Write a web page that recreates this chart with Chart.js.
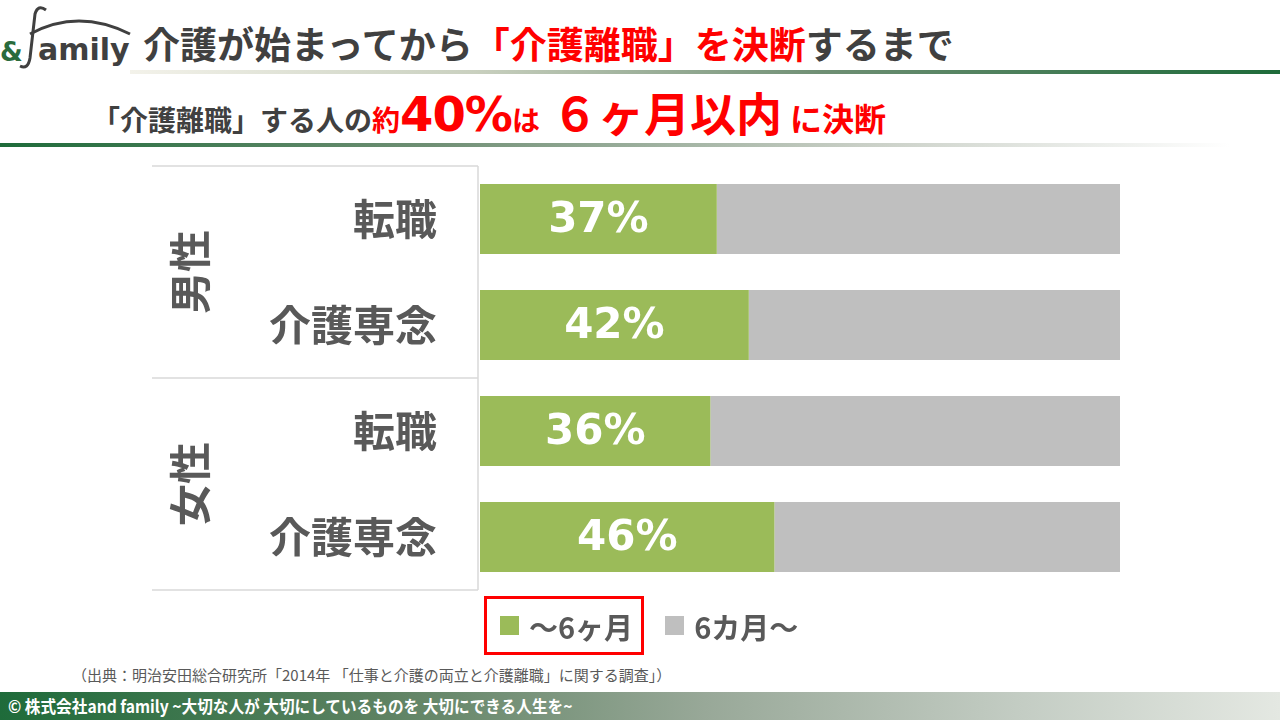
<!DOCTYPE html>
<html lang="ja">
<head>
<meta charset="utf-8">
<script src="https://cdn.jsdelivr.net/npm/chart.js@4/dist/chart.umd.min.js"></script>
<style>
  html, body { margin: 0; padding: 0; background: #fff; }
  body { width: 1280px; height: 720px; position: relative; overflow: hidden;
         font-family: "Noto Sans CJK JP", "Noto Sans", sans-serif; color: #595959; }
  #logo { position: absolute; left: 0; top: 0; width: 140px; height: 72px; }
  #title { position: absolute; left: 143px; top: 18px; font-size: 37px; font-weight: 700;
           color: #404040; white-space: nowrap; line-height: 50px; }
  .red { color: #ff0000; }
  #topline { position: absolute; left: 130px; top: 70px; width: 1150px; height: 4px;
             background: linear-gradient(to right, #f3f2ea 0%, #c9d0bf 30%, #6f8f74 60%, #1e6b3a 100%); }
  #subtitle { position: absolute; left: 92px; top: 86px; white-space: nowrap; font-weight: 700;
              color: #404040; line-height: 50px; }
  #subtitle .s { font-size: 28px; }
  #subtitle .s2 { font-size: 32px; margin-left: 8px; }
  #subtitle .big { font-size: 46px; margin-left: 12px; }
  #subtitle .num { font-family: "DejaVu Sans", sans-serif; font-size: 48px; letter-spacing: -1px; }
  #midline { position: absolute; left: 0; top: 143px; width: 1230px; height: 4px;
             background: linear-gradient(to right, #1e6b3a 0%, #6f8f74 35%, #c9cfc6 70%, #ffffff 100%); }
  #chartBox { position: absolute; left: 0; top: 150px; width: 1280px; height: 450px; }
  #legend { position: absolute; left: 484px; top: 596px; height: 59px; display: flex; align-items: center; }
  .leg { display: flex; align-items: center; font-size: 29px; font-weight: 700; color: #595959;
         height: 59px; box-sizing: border-box; white-space: nowrap; }
  .leg .sw { width: 19px; height: 19px; margin-right: 10px; }
  .leg.first { border: 3px solid #ff0000; padding: 0 8px 0 13px; }
  .leg.second { padding-left: 21px; }
  #source { position: absolute; left: 72px; top: 664px; font-size: 15px; color: #595959; white-space: nowrap; }
  #footer { position: absolute; left: 0; top: 692px; width: 1280px; height: 28px;
            background: linear-gradient(to right, #1e6b3a 0%, #5e8262 30%, #98a898 55%, #c4cdc4 80%, #e4e8e2 100%);
            color: #fff; font-weight: 700; font-size: 17px; line-height: 28px; }
  #footer span { display: inline-block; margin-left: 8px; transform: scaleX(0.92); transform-origin: left center; }
</style>
</head>
<body>
<svg id="logo" viewBox="0 0 140 72" width="140" height="72">
  <path d="M30 34 Q78 8 130 34" fill="none" stroke="#404040" stroke-width="3"/>
  <path d="M46 10 Q38 4 35 14 L30 58 Q28 70 20 66" fill="none" stroke="#404040" stroke-width="3"/>
  <text x="0" y="61" font-family="DejaVu Sans" font-weight="bold" font-size="26" fill="#2a6b3c">&amp;</text>
  <text x="38" y="60" font-family="DejaVu Sans" font-weight="bold" font-size="30" fill="#404040">amily</text>
</svg>
<div id="title">介護が始まってから<span class="red">「介護離職」を決断</span>するまで</div>
<div id="topline"></div>
<div id="subtitle"><span class="s">「介護離職」する人の</span><span class="red"><span class="s">約</span><span class="num">40%</span><span class="s">は</span><span class="big">６ヶ月以内</span><span class="s2">に決断</span></span></div>
<div id="midline"></div>
<div id="chartBox"><canvas id="chart"></canvas></div>
<div id="legend"></div>
<div id="source">（出典：明治安田総合研究所「2014年 「仕事と介護の両立と介護離職」に関する調査」）</div>
<div id="footer"><span>© 株式会社and family ~大切な人が 大切にしているものを 大切にできる人生を~</span></div>

<script>
// --- Datos ---
const categories = ['転職', '介護専念', '転職', '介護専念'];
const groups = ['男性', '女性'];
const seriesNames = ['～6ヶ月', '6カ月～'];
const within6 = [37, 42, 36, 46];
const over6 = [63, 58, 64, 54];
const seriesColors = ['#9bbb59', '#bfbfbf'];

// --- Plugin: líneas de grupo y etiquetas verticales ---
const groupPlugin = {
  id: 'groupPlugin',
  afterDraw(chart) {
    const ctx = chart.ctx;
    const y = chart.scales.y;
    const area = chart.chartArea;
    const left = 152;
    const edge = area.left - 2;
    const mid = (y.getPixelForValue(1) + y.getPixelForValue(2)) / 2;
    ctx.save();
    ctx.strokeStyle = '#d9d9d9';
    ctx.lineWidth = 1.5;
    ctx.beginPath();
    [area.top, mid, area.bottom].forEach(py => {
      ctx.moveTo(left, py);
      ctx.lineTo(edge, py);
    });
    ctx.moveTo(edge, area.top);
    ctx.lineTo(edge, area.bottom);
    ctx.stroke();

    ctx.fillStyle = '#595959';
    ctx.font = 'bold 42px "Noto Sans CJK JP"';
    ctx.textAlign = 'center';
    ctx.textBaseline = 'middle';
    groups.forEach((g, i) => {
      const cy = (y.getPixelForValue(i * 2) + y.getPixelForValue(i * 2 + 1)) / 2;
      ctx.save();
      ctx.translate(190, cy);
      ctx.rotate(-Math.PI / 2);
      ctx.fillText(g, 0, 0);
      ctx.restore();
    });
    ctx.restore();
  }
};

// --- Plugin: etiquetas de porcentaje ---
const valueLabels = {
  id: 'valueLabels',
  afterDatasetsDraw(chart) {
    const ctx = chart.ctx;
    const meta = chart.getDatasetMeta(0);
    ctx.save();
    ctx.fillStyle = '#ffffff';
    ctx.font = 'bold 42px "DejaVu Sans"';
    ctx.textAlign = 'center';
    ctx.textBaseline = 'middle';
    meta.data.forEach((bar, i) => {
      ctx.fillText(within6[i] + '%', (bar.base + bar.x) / 2, bar.y + 2);
    });
    ctx.restore();
  }
};

const chart = new Chart(document.getElementById('chart'), {
  type: 'bar',
  data: {
    labels: categories,
    datasets: [
      { label: seriesNames[0], data: within6, backgroundColor: seriesColors[0] },
      { label: seriesNames[1], data: over6, backgroundColor: seriesColors[1] }
    ]
  },
  options: {
    indexAxis: 'y',
    responsive: true,
    maintainAspectRatio: false,
    animation: false,
    barPercentage: 0.66,
    categoryPercentage: 1,
    layout: { padding: { top: 16, bottom: 10, left: 0, right: 160 } },
    plugins: {
      legend: { display: false },
      tooltip: { enabled: false }
    },
    scales: {
      x: {
        stacked: true,
        min: 0,
        max: 100,
        display: false
      },
      y: {
        stacked: true,
        grid: { display: false, drawTicks: false },
        border: { display: false },
        ticks: {
          color: '#595959',
          font: { family: '"Noto Sans CJK JP"', size: 42, weight: 'bold' },
          padding: 43
        },
        afterFit(scale) {
          scale.width = 480;
          scale.paddingTop = 0;
          scale.paddingBottom = 0;
        }
      }
    }
  },
  plugins: [groupPlugin, valueLabels]
});

// --- Leyenda HTML ---
const legendEl = document.getElementById('legend');
chart.data.datasets.forEach((ds, i) => {
  const item = document.createElement('div');
  item.className = 'leg ' + (i === 0 ? 'first' : 'second');
  item.innerHTML = `<div class="sw" style="background:${ds.backgroundColor}"></div><span>${ds.label}</span>`;
  legendEl.appendChild(item);
});
</script>
</body>
</html>
